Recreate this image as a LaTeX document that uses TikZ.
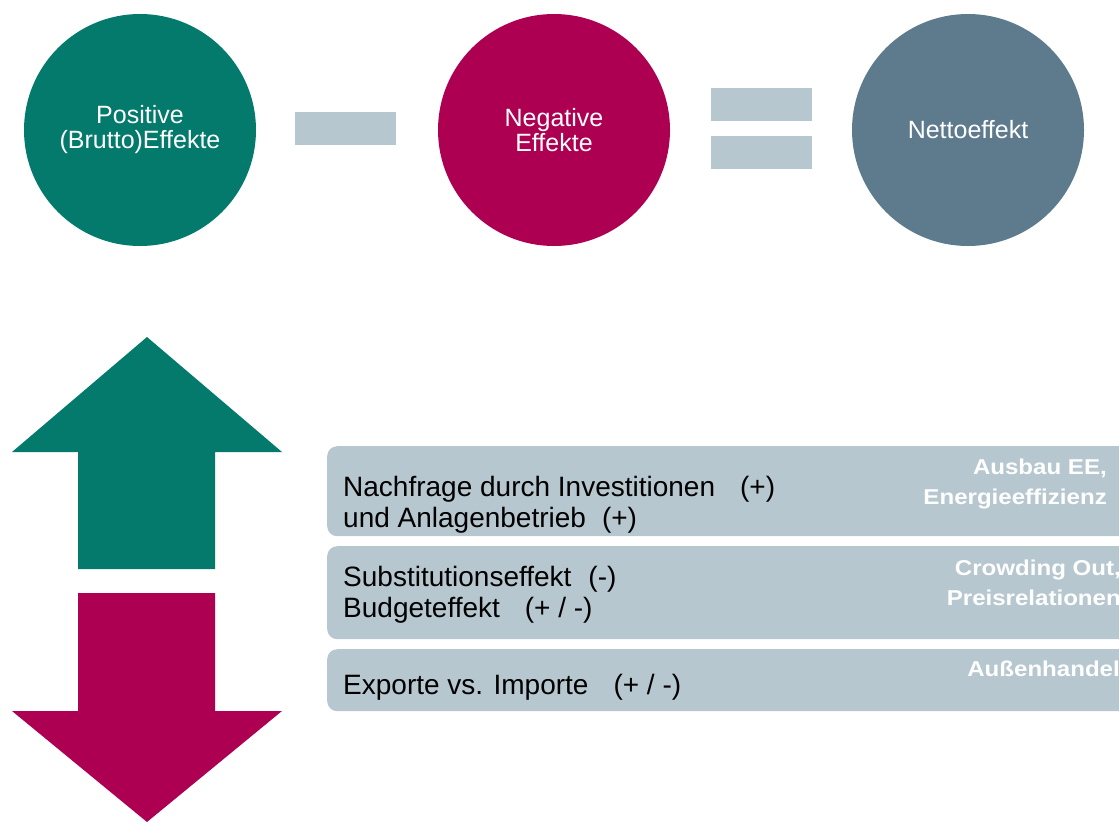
\documentclass[tikz,border=0pt]{standalone}
\usepackage{fontspec}
\usepackage{xcolor}
\usepackage{tikz}
\usetikzlibrary{positioning}
\setmainfont{Liberation Sans}
\newfontfamily\tagfont[FakeStretch=1.12]{Liberation Sans}

\definecolor{posgreen}{RGB}{3,122,107}
\definecolor{negred}{RGB}{174,0,82}
\definecolor{netslate}{RGB}{94,123,142}
\definecolor{barblue}{RGB}{182,199,207}

\begin{document}
\begin{tikzpicture}[x=1pt,y=-1pt,
    effect/.style={circle,minimum size=232pt,inner sep=0pt,text=white,align=center,font=\fontsize{25}{25}\selectfont},
    bar/.style={fill=barblue,minimum width=101pt,minimum height=33pt,inner sep=0pt},
    panel/.style={fill=barblue,rounded corners=10pt,minimum width=830pt,anchor=north west,inner sep=0pt},
    itemtext/.style={anchor=base west,align=left,inner sep=0pt,font=\fontsize{28}{31}\selectfont},
    tagtext/.style={anchor=base east,align=right,inner sep=0pt,text=white,font=\tagfont\bfseries\fontsize{21.5}{30}\selectfont}]
        \useasboundingbox (0,0) rectangle (1119,822);
        \clip (0,0) rectangle (1119,822);

        % circles with operators
        \node[effect,fill=posgreen] (pos) at (140,130) {Positive\\(Brutto)Effekte};
        \node[effect,fill=negred] (neg) at (554,130) {Negative\\Effekte};
        \node[effect,fill=netslate] (net) at (968,130) {Nettoeffekt};
        \node[bar] (minus) at (345.5,128.5) {};
        \node[bar] (eqtop) at (761,104.5) {};
        \node[bar,below=15pt of eqtop] (eqbot) {};

        % up and down arrows
        \fill[posgreen] (147,337) -- (282,452) -- (215,452) -- (215,569) -- (78,569) -- (78,452) -- (12,452) -- cycle;
        \fill[negred] (147,822) -- (282,711) -- (215,711) -- (215,593) -- (78,593) -- (78,711) -- (12,711) -- cycle;

        % panels
        \node[panel,minimum height=90pt] (inv) at (327,446) {};
        \node[panel,minimum height=93pt] (sub) at (327,546) {};
        \node[panel,minimum height=62pt] (ext) at (327,649) {};

        % base anchor of a multi-line node is its last line
        \node[itemtext] (invtxt) at (343,527) {Nachfrage durch Investitionen\hspace{25pt}(+)\\und Anlagenbetrieb\hspace{16pt}(+)};
        \node[itemtext] (subtxt) at (343,617) {Substitutionseffekt\hspace{17pt}(-)\\Budgeteffekt\hspace{25pt}(+ / -)};
        \node[itemtext] (exttxt) at (343,694) {Exporte vs. Importe\hspace{25pt}(+ / -)};

        \node[tagtext] (invtag) at (1107,504) {Ausbau EE,\\Energieeffizienz};
        \node[tagtext] (subtag) at (1121,605) {Crowding Out,\\Preisrelationen};
        \node[tagtext] (exttag) at (1120,676) {Außenhandel};
    \end{tikzpicture}
\end{document}
